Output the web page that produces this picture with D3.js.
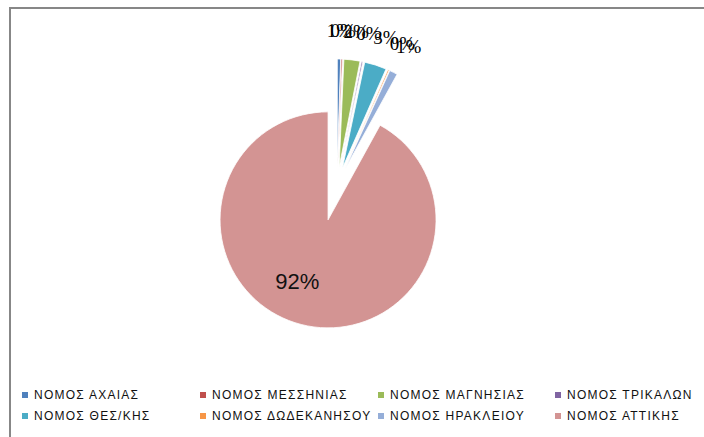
<!DOCTYPE html>
<html>
<head>
<meta charset="utf-8">
<script src="https://cdn.jsdelivr.net/npm/d3@7"></script>
<style>
    html, body { margin: 0; padding: 0; background: #fff; }
    svg { display: block; }
</style>
</head>
<body>
<svg id="chart" width="704" height="437"></svg>
<script>
// ---- data ----
const categories = [
    "ΝΟΜΟΣ ΑΧΑΙΑΣ", "ΝΟΜΟΣ ΜΕΣΣΗΝΙΑΣ", "ΝΟΜΟΣ ΜΑΓΝΗΣΙΑΣ", "ΝΟΜΟΣ ΤΡΙΚΑΛΩΝ",
    "ΝΟΜΟΣ ΘΕΣ/ΚΗΣ", "ΝΟΜΟΣ ΔΩΔΕΚΑΝΗΣΟΥ", "ΝΟΜΟΣ ΗΡΑΚΛΕΙΟΥ", "ΝΟΜΟΣ ΑΤΤΙΚΗΣ"
];
const shares = [0.5, 0.2, 2.4, 0.2, 3.3, 0.2, 1.2, 92.0];   // percent
const colors = ["#4F81BD", "#C0504D", "#9BBB59", "#8064A2", "#4BACC6", "#F79646", "#95AED8", "#D39493"];

// ---- layout ----
const svg = d3.select("#chart");
const cx = 337, cy = 185, radius = 108;

// chart frame (runs off the right and bottom edges)
svg.append("rect")
    .attr("x", 10).attr("y", 8)
    .attr("width", 720).attr("height", 460)
    .attr("fill", "none")
    .attr("stroke", "#878787")
    .attr("stroke-width", 2);

const data = categories.map((name, i) => ({ name, value: shares[i], color: colors[i] }));

const pie = d3.pie().sort(null).value(d => d.value);
const arcs = pie(data);

const arc = d3.arc().innerRadius(0).outerRadius(radius);

// exploded offsets: big slice pulled down-left, small ones pushed up
const explode = d => d.data.name === "ΝΟΜΟΣ ΑΤΤΙΚΗΣ" ? 36 : 18;
const polar = (angle, dist) => [Math.sin(angle) * dist, -Math.cos(angle) * dist];
const mid = d => (d.startAngle + d.endAngle) / 2;

const g = svg.append("g").attr("transform", `translate(${cx},${cy})`);

const slices = g.selectAll("g.slice")
    .data(arcs)
    .join("g")
    .attr("class", "slice")
    .attr("transform", d => {
        const [dx, dy] = polar(mid(d), explode(d));
        return `translate(${dx},${dy})`;
    });

slices.append("path")
    .attr("d", arc)
    .attr("fill", d => d.data.color)
    .attr("stroke", "#fff")
    .attr("stroke-width", 0.8);

// percentage labels
const pct = d => Math.round(d.data.value) + "%";

// outside labels for the thin slices (they pile up, as in the original)
slices.filter(d => d.data.value < 50)
    .append("text")
    .attr("x", d => Math.sin(mid(d)) * 142)
    .attr("y", d => -Math.cos(mid(d)) * 137)
    .attr("dy", "0.35em")
    .attr("text-anchor", "middle")
    .style("font-family", "'Liberation Serif', serif")
    .style("font-size", "19px")
    .style("fill", "#000")
    .text(pct);

slices.filter(d => d.data.value >= 50)
    .append("text")
    .attr("x", d => polar(mid(d) + 0.21, radius * 0.64)[0])
    .attr("y", d => polar(mid(d) + 0.21, radius * 0.64)[1])
    .attr("dy", "0.35em")
    .attr("text-anchor", "middle")
    .style("font-family", "'Liberation Sans', Arial, sans-serif")
    .style("font-size", "22px")
    .style("fill", "#111")
    .text(pct);

// ---- legend ----
const colX = [22, 200, 378, 555];
const rowY = [395, 416];

const legend = svg.append("g").attr("class", "legend");
const items = legend.selectAll("g")
    .data(data)
    .join("g")
    .attr("transform", (d, i) => `translate(${colX[i % 4]},${rowY[Math.floor(i / 4)]})`);

items.append("rect")
    .attr("x", 0).attr("y", -3)
    .attr("width", 6).attr("height", 6)
    .attr("fill", d => d.color);

items.append("text")
    .attr("x", 12)
    .attr("y", 0)
    .attr("dy", "0.36em")
    .style("font-family", "'Liberation Sans', Arial, sans-serif")
    .style("font-size", "12px")
    .style("letter-spacing", "1.25px")
    .style("fill", "#111")
    .text(d => d.name);
</script>
</body>
</html>
